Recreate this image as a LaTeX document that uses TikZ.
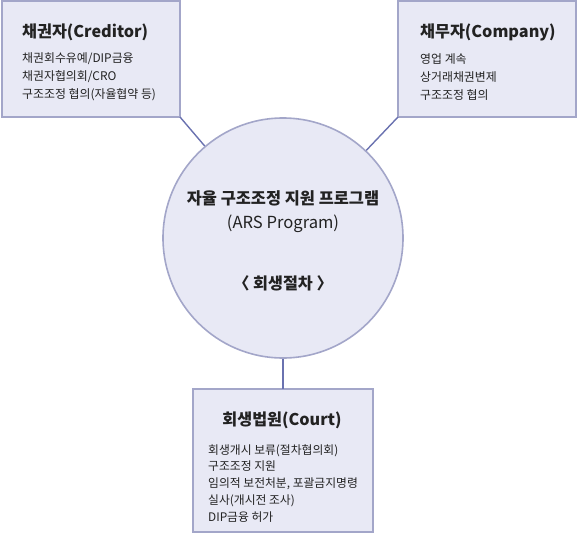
\documentclass[tikz,border=0pt]{standalone}
\usepackage{fontspec}
\setmainfont{Noto Sans CJK KR}
\definecolor{boxfill}{HTML}{E8E9F5}
\definecolor{boxline}{HTML}{A3A6C9}
\definecolor{conn}{HTML}{6A72B0}
\definecolor{txt}{HTML}{222222}
\begin{document}
\begin{tikzpicture}[x=1pt,y=-1pt,
  panel/.style={draw=boxline,fill=boxfill,line width=1.6pt},
  ttl/.style={font=\fontsize{16.2}{19}\selectfont\bfseries,text=txt,inner sep=0pt},
  body/.style={font=\fontsize{11.9}{18}\selectfont,text=txt,align=left,inner sep=0pt},
  link/.style={draw=conn,line width=1.4pt}]
\useasboundingbox (0,0) rectangle (578,543);
% boxes
\path[panel] (2,1) rectangle (180,117);
\coordinate (cr) at (180,117);
\path[panel] (398,1) rectangle (576,117);
\coordinate (co) at (398,117);
\path[panel] (193,389) rectangle (373,532);
\coordinate (ct) at (283,389);
% circle
\node[circle,draw=boxline,fill=boxfill,line width=1.6pt,minimum size=240pt,inner sep=0pt] (ars) at (283,238) {};
% connectors
\draw[link] (cr) -- (ars);
\draw[link] (co) -- (ars);
\draw[link] (ars.south) -- (ct);
% creditor text
\node[ttl,anchor=west] (t1) at (22,32) {채권자(Creditor)};
\node[body,anchor=north west] (b1) at (22,52) {채권회수유예/DIP금융\\채권자협의회/CRO\\구조조정 협의(자율협약 등)};
% company text
\node[ttl,anchor=west] (t2) at (420,32) {채무자(Company)};
\node[body,anchor=north west] (b2) at (420,53) {영업 계속\\상거래채권변제\\구조조정 협의};
% circle text
\node[font=\fontsize{16.4}{19}\selectfont\bfseries,text=txt,inner sep=0pt] (c1) at (283,198) {자율 구조조정 지원 프로그램};
\node[font=\fontsize{16.6}{19}\selectfont,text=txt,inner sep=0pt] (c2) at (283,224) {(ARS Program)};
\node[ttl] (c3) at (283,283) {〈 회생절차 〉};
% court text
\node[ttl] (t3) at (282,420) {회생법원(Court)};
\node[body,anchor=north west,font=\fontsize{11.8}{16.8}\selectfont] (b3) at (208,444) {회생개시 보류(절차협의회)\\구조조정 지원\\임의적 보전처분, 포괄금지명령\\실사(개시전 조사)\\DIP금융 허가};
\end{tikzpicture}
\end{document}
